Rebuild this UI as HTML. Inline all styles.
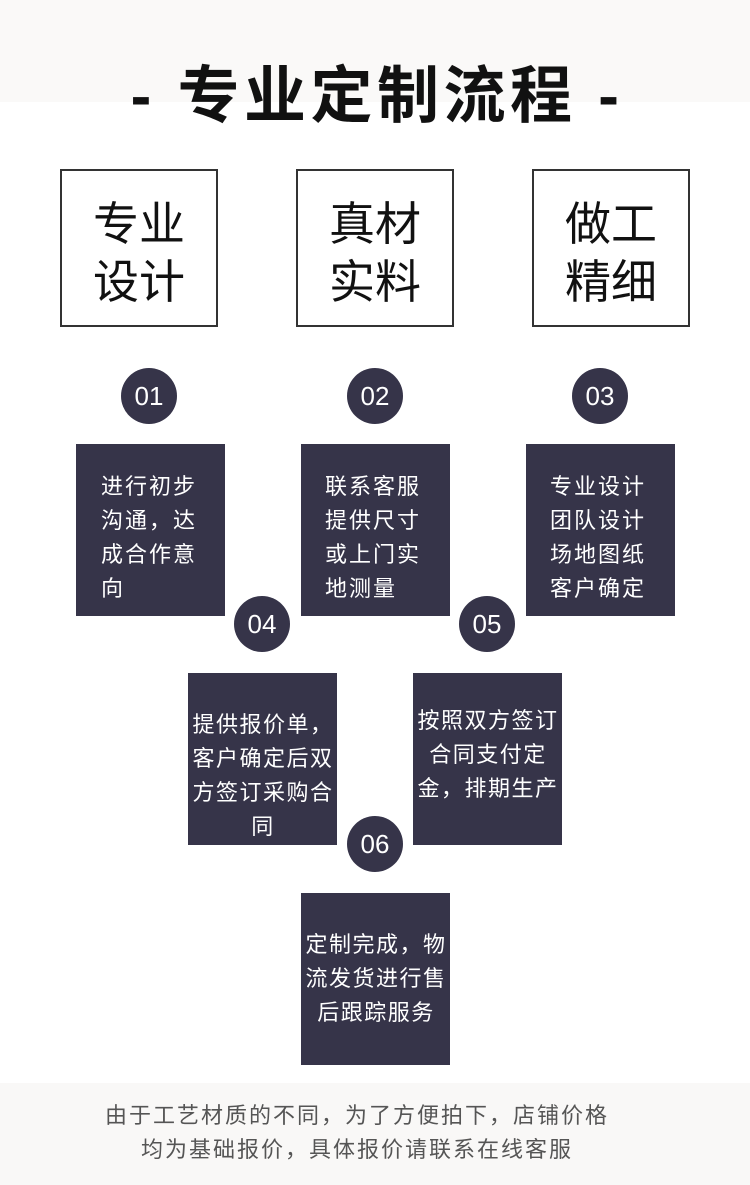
<!DOCTYPE html>
<html><head><meta charset="utf-8"><style>
*{margin:0;padding:0;box-sizing:border-box}
body{width:750px;height:1185px;background:#fff;position:relative;overflow:hidden;font-family:"Liberation Sans","Noto Sans CJK SC",sans-serif}
.top{position:absolute;left:0;top:0;width:750px;height:102px;background:#faf9f8}
.bot{position:absolute;left:0;top:1083px;width:750px;height:102px;background:#f9f8f7}
.title{position:absolute;left:0;top:58px;width:750px;text-align:center;font-size:62px;font-weight:bold;color:#111;line-height:78px;letter-spacing:4.5px;padding-left:4px}
.ob{position:absolute;top:169px;width:158px;height:158px;border:2px solid #333;font-size:46px;line-height:58px;text-align:center;padding-top:24px;color:#111}
.c{position:absolute;width:56px;height:56px;border-radius:50%;background:#363449;color:#fff;font-size:26px;line-height:56px;text-align:center}
.db{position:absolute;width:149px;height:172px;background:#363449;color:#fff;font-size:22px;line-height:34px;letter-spacing:2px}
.n{text-align:center;letter-spacing:1.5px;white-space:nowrap;padding-left:1px}
.foot{position:absolute;left:-36px;top:1099px;width:786px;text-align:center;font-size:22px;line-height:34px;color:#555;letter-spacing:2px}
</style></head><body>
<div class="top"></div><div class="bot"></div>
<div class="title">- 专业定制流程 -</div>
<div class="ob" style="left:60px">专业<br>设计</div>
<div class="ob" style="left:296px">真材<br>实料</div>
<div class="ob" style="left:532px">做工<br>精细</div>
<div class="c" style="left:121px;top:368px">01</div>
<div class="c" style="left:347px;top:368px">02</div>
<div class="c" style="left:572px;top:368px">03</div>
<div class="db" style="left:76px;top:444px;padding:26px 0 0 25px">进行初步<br>沟通，达<br>成合作意<br>向</div>
<div class="db" style="left:301px;top:444px;padding:26px 0 0 24px">联系客服<br>提供尺寸<br>或上门实<br>地测量</div>
<div class="db" style="left:526px;top:444px;padding:26px 0 0 24px">专业设计<br>团队设计<br>场地图纸<br>客户确定</div>
<div class="db n" style="left:188px;top:673px;padding-top:35px">提供报价单，<br>客户确定后双<br>方签订采购合<br>同</div>
<div class="db n" style="left:413px;top:673px;padding-top:31px">按照双方签订<br>合同支付定<br>金，排期生产</div>
<div class="db n" style="left:301px;top:893px;padding-top:35px">定制完成，物<br>流发货进行售<br>后跟踪服务</div>
<div class="c" style="left:234px;top:596px">04</div>
<div class="c" style="left:459px;top:596px">05</div>
<div class="c" style="left:347px;top:816px">06</div>
<div class="foot">由于工艺材质的不同，为了方便拍下，店铺价格<br>均为基础报价，具体报价请联系在线客服</div>
</body></html>
